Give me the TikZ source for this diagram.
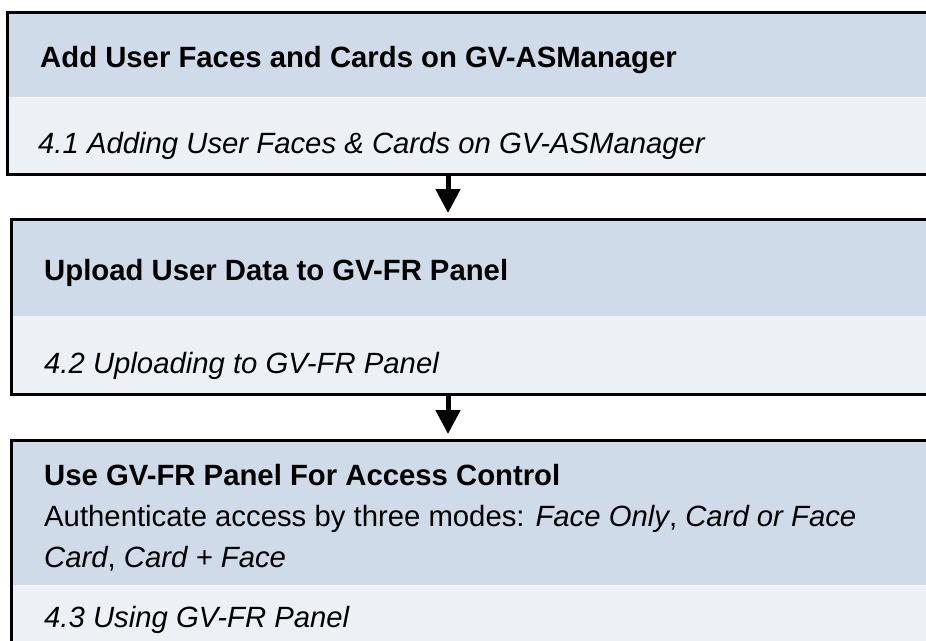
\documentclass[tikz,border=0pt]{standalone}
\usepackage{fontspec}
\setmainfont{Liberation Sans}
\usetikzlibrary{arrows.meta}
\definecolor{bandtop}{HTML}{CFDBE8}
\definecolor{bandlow}{HTML}{EDF1F6}
\tikzset{
  band/.style={anchor=north west, inner sep=0, minimum width=929pt},
  headband/.style={band, fill=bandtop},
  footband/.style={band, fill=bandlow},
  frame/.style={anchor=north west, inner sep=0, minimum width=929pt, draw=black, line width=3pt},
  stagetitle/.style={anchor=base west, inner sep=0, font=\fontsize{29.3}{42}\selectfont\bfseries},
  stagetext/.style={anchor=base west, inner sep=0, font=\fontsize{29.3}{42}\selectfont},
  flow/.style={line width=5pt, -{Triangle[width=24pt,length=24pt]}, shorten >=5pt}
}
\begin{document}
\begin{tikzpicture}[x=1pt,y=-1pt]
\useasboundingbox (0,0) rectangle (926,640);
\clip (0,0) rectangle (926,640);
% stage 1
\node[headband, minimum height=86pt] (head1) at (6,11) {};
\node[footband, minimum height=76pt] (foot1) at (6,97) {};
\node[frame, minimum height=162pt] (frame1) at (6,11) {};
\node[stagetitle] (title1) at (40,67) {Add User Faces and Cards on GV-ASManager};
\node[stagetext] (ref1) at (38,153) {\itshape 4.1 Adding User Faces \& Cards on GV-ASManager};
% stage 2
\node[headband, minimum height=98pt] (head2) at (10,218) {};
\node[footband, minimum height=77pt] (foot2) at (10,316) {};
\node[frame, minimum height=175pt] (frame2) at (10,218) {};
\node[stagetitle] (title2) at (44,280) {Upload User Data to GV-FR Panel};
\node[stagetext] (ref2) at (44,373) {\itshape 4.2 Uploading to GV-FR Panel};
% stage 3
\node[headband, minimum height=146pt] (head3) at (10,439) {};
\node[footband, minimum height=70pt] (foot3) at (10,585) {};
\node[frame, minimum height=216pt] (frame3) at (10,439) {};
\node[stagetitle] (title3) at (44,485) {Use GV-FR Panel For Access Control};
\node[stagetext] (mode1) at (44,526) {Authenticate access by three modes: \textit{Face Only}, \textit{Card or Face}};
\node[stagetext] (mode2) at (44,567) {\textit{Card}, \textit{Card + Face}};
\node[stagetext] (ref3) at (44,627) {\itshape 4.3 Using GV-FR Panel};
% arrows
\coordinate (axis) at (448,0);
\draw[flow] (axis |- frame1.south) -- (axis |- frame2.north);
\draw[flow] (axis |- frame2.south) -- (axis |- frame3.north);
\end{tikzpicture}
\end{document}
